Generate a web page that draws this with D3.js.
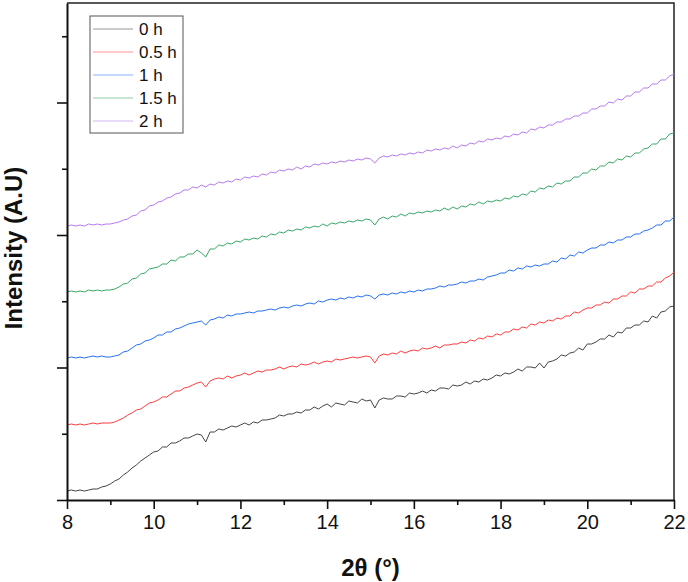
<!DOCTYPE html>
<html>
<head>
<meta charset="utf-8">
<script src="https://cdn.jsdelivr.net/npm/d3@7"></script>
<style>
  body { margin: 0; background: #fff; }
  svg { display: block; font-family: 'Liberation Sans', Arial, sans-serif; }
</style>
</head>
<body>
<div id="chart"></div>
<script>
// 2theta from 8 to 22 in 0.1 steps
var twoTheta = d3.range(0, 141).map(function (i) { return +(8 + i * 0.1).toFixed(1); });

var seriesNames = ['0 h', '0.5 h', '1 h', '1.5 h', '2 h'];
var seriesColors = ['#444444', '#ff3d3d', '#2671f2', '#35a865', '#b57aed'];

// offset intensities (a.u.)
var int0h = [
    9, 10, 9, 10, 9, 10, 11, 11, 13, 14,
    16, 19, 21, 25, 28, 32, 35, 39, 42, 45,
    48, 49, 53, 53, 57, 57, 59, 62, 62, 64,
    66, 65, 58, 68, 68, 71, 70, 72, 74, 73,
    75, 77, 75, 78, 77, 80, 80, 81, 82, 85,
    84, 86, 86, 88, 87, 90, 90, 93, 91, 94,
    96, 93, 97, 96, 95, 99, 98, 97, 101, 99,
    100, 92, 100, 102, 101, 101, 104, 104, 103, 107,
    106, 107, 109, 107, 110, 109, 112, 112, 111, 115,
    114, 115, 118, 116, 119, 118, 121, 120, 122, 125,
    124, 127, 126, 128, 131, 129, 133, 133, 132, 137,
    132, 138, 139, 141, 145, 144, 147, 148, 152, 150,
    156, 156, 158, 161, 161, 165, 163, 168, 167, 172,
    172, 175, 175, 179, 178, 184, 182, 188, 189, 193, 194
];
var int05h = [
    75, 76, 75, 76, 75, 76, 77, 76, 77, 77,
    77, 78, 80, 82, 85, 87, 90, 91, 94, 97,
    98, 100, 103, 103, 106, 109, 109, 112, 113, 115,
    117, 118, 113, 119, 121, 122, 121, 124, 122, 124,
    125, 127, 125, 127, 129, 128, 130, 130, 131, 133,
    131, 133, 134, 133, 136, 135, 136, 138, 136, 138,
    139, 138, 141, 140, 141, 142, 143, 142, 143, 144,
    143, 137, 144, 146, 145, 147, 146, 149, 147, 149,
    150, 149, 152, 151, 152, 154, 152, 155, 155, 156,
    156, 158, 157, 160, 159, 162, 161, 164, 163, 166,
    165, 168, 168, 171, 170, 173, 172, 176, 175, 178,
    177, 180, 179, 182, 181, 184, 184, 188, 187, 190,
    192, 192, 195, 195, 198, 197, 201, 201, 204, 204,
    208, 207, 211, 211, 214, 214, 218, 218, 222, 224, 228
];
var int1h = [
    142, 143, 142, 143, 142, 143, 144, 143, 144, 143,
    143, 144, 145, 148, 149, 152, 155, 156, 159, 160,
    162, 165, 165, 168, 168, 171, 172, 174, 176, 177,
    178, 179, 175, 180, 181, 183, 182, 185, 184, 186,
    186, 187, 188, 187, 189, 189, 190, 191, 190, 192,
    193, 192, 194, 195, 194, 196, 197, 196, 199, 198,
    200, 201, 200, 202, 201, 203, 202, 204, 203, 205,
    204, 201, 205, 206, 205, 207, 206, 208, 207, 209,
    208, 210, 209, 211, 211, 212, 214, 213, 215, 215,
    216, 218, 217, 219, 219, 221, 220, 223, 224, 225,
    227, 227, 230, 229, 232, 231, 234, 233, 235, 234,
    236, 236, 239, 238, 242, 241, 245, 244, 248, 247,
    250, 252, 252, 255, 255, 258, 257, 260, 260, 263,
    263, 266, 266, 269, 270, 272, 275, 275, 279, 279, 283
];
var int15h = [
    208, 209, 208, 209, 208, 210, 209, 210, 209, 210,
    210, 211, 213, 216, 217, 221, 222, 226, 227, 231,
    232, 233, 236, 236, 240, 239, 243, 243, 246, 246,
    250, 247, 243, 251, 251, 255, 254, 257, 256, 259,
    258, 261, 260, 262, 261, 264, 263, 266, 265, 268,
    267, 270, 269, 271, 270, 273, 272, 274, 273, 276,
    274, 277, 276, 278, 277, 279, 278, 280, 279, 281,
    280, 275, 281, 283, 281, 284, 283, 286, 284, 287,
    286, 288, 287, 289, 288, 290, 289, 292, 290, 293,
    291, 294, 293, 296, 295, 298, 296, 299, 298, 300,
    299, 302, 301, 304, 303, 306, 305, 309, 308, 312,
    311, 314, 313, 317, 316, 319, 319, 323, 323, 327,
    327, 331, 330, 334, 334, 338, 337, 341, 340, 344,
    343, 347, 347, 351, 352, 356, 356, 361, 361, 366, 367
];
var int2h = [
    274, 275, 274, 275, 274, 276, 275, 276, 275, 276,
    276, 277, 278, 280, 281, 284, 285, 289, 290, 294,
    295, 298, 299, 302, 303, 306, 307, 310, 310, 313,
    312, 315, 313, 316, 315, 318, 317, 319, 318, 321,
    320, 323, 322, 324, 323, 326, 325, 328, 327, 330,
    329, 331, 330, 333, 331, 334, 333, 336, 335, 337,
    336, 338, 337, 339, 338, 340, 339, 341, 340, 342,
    341, 337, 342, 344, 343, 345, 344, 346, 345, 347,
    346, 348, 347, 350, 349, 351, 350, 352, 351, 354,
    352, 355, 354, 357, 356, 359, 358, 361, 360, 362,
    361, 364, 363, 366, 365, 368, 367, 371, 370, 373,
    372, 375, 375, 378, 378, 381, 381, 384, 384, 387,
    387, 391, 391, 394, 394, 398, 397, 401, 400, 404,
    404, 408, 408, 412, 412, 416, 416, 420, 420, 424, 426
];
var intensities = [int0h, int05h, int1h, int15h, int2h];

var xMajorTicks = [8, 10, 12, 14, 16, 18, 20, 22];
var xMinorTicks = [9, 11, 13, 15, 17, 19, 21];
var yMajorTicks = [0, 132.5, 265, 397.5];
var yMinorTicks = [66.25, 198.75, 331.25, 463.75];

var width = 688;
var height = 582;
var margin = { top: 3, right: 14, bottom: 82, left: 67 };
var plotW = width - margin.left - margin.right;
var plotH = height - margin.top - margin.bottom;

var svg = d3.select('#chart').append('svg')
    .attr('width', width)
    .attr('height', height);

var g = svg.append('g')
    .attr('transform', 'translate(' + margin.left + ',' + margin.top + ')');

var x = d3.scaleLinear().domain([8, 22]).range([0, plotW]);
var y = d3.scaleLinear().domain([0, 497]).range([plotH, 0]);

// frame (top + right)
g.append('path')
    .attr('d', 'M0,0H' + plotW + 'V' + plotH)
    .attr('fill', 'none')
    .attr('stroke', '#222')
    .attr('stroke-width', 1.5);

var line = d3.line()
    .x(function (d) { return x(d[0]); })
    .y(function (d) { return y(d[1]); });

intensities.forEach(function (vals, i) {
    g.append('path')
        .datum(twoTheta.map(function (t, j) { return [t, vals[j]]; }))
        .attr('fill', 'none')
        .attr('stroke', seriesColors[i])
        .attr('stroke-width', 1)
        .attr('d', line);
});

// x axis
var xAxis = g.append('g')
    .attr('transform', 'translate(0,' + plotH + ')')
    .call(d3.axisBottom(x).tickValues(xMajorTicks).tickSize(9).tickSizeOuter(0).tickPadding(6).tickFormat(d3.format('d')));
g.append('g')
    .attr('transform', 'translate(0,' + plotH + ')')
    .call(d3.axisBottom(x).tickValues(xMinorTicks).tickSize(5).tickSizeOuter(0).tickFormat(''))
    .select('.domain').remove();

// y axis
var yAxis = g.append('g')
    .call(d3.axisLeft(y).tickValues(yMajorTicks).tickSize(10).tickSizeOuter(0).tickFormat(''));
g.append('g')
    .call(d3.axisLeft(y).tickValues(yMinorTicks).tickSize(5).tickSizeOuter(0).tickFormat(''))
    .select('.domain').remove();

g.selectAll('.domain').attr('stroke', '#111').attr('stroke-width', 2);
g.selectAll('.tick line').attr('stroke', '#111').attr('stroke-width', 1.6);
xAxis.selectAll('.tick text')
    .attr('font-size', 20)
    .attr('fill', '#111')
    .attr('font-family', "'Liberation Sans', Arial, sans-serif");

// axis titles
svg.append('text')
    .attr('x', margin.left + plotW / 2)
    .attr('y', 576)
    .attr('text-anchor', 'middle')
    .attr('font-size', 24)
    .attr('font-weight', 'bold')
    .attr('fill', '#111')
    .text('2θ (°)');

svg.append('text')
    .attr('transform', 'translate(22,' + (margin.top + 245) + ') rotate(-90)')
    .attr('text-anchor', 'middle')
    .attr('font-size', 24)
    .attr('font-weight', 'bold')
    .attr('fill', '#111')
    .text('Intensity (A.U)');

// legend
var legend = svg.append('g').attr('transform', 'translate(90,16)');
legend.append('rect')
    .attr('width', 93)
    .attr('height', 117)
    .attr('fill', '#fff')
    .attr('stroke', '#555')
    .attr('stroke-width', 1);

seriesNames.forEach(function (name, i) {
    var row = legend.append('g').attr('transform', 'translate(0,' + (13 + i * 23) + ')');
    row.append('line')
        .attr('x1', 3).attr('x2', 43)
        .attr('stroke', seriesColors[i])
        .attr('stroke-opacity', 0.55)
        .attr('stroke-width', 1.2);
    row.append('text')
        .attr('x', 49)
        .attr('y', 6)
        .attr('font-size', 17)
        .attr('fill', '#111')
        .text(name);
});
</script>
</body>
</html>
